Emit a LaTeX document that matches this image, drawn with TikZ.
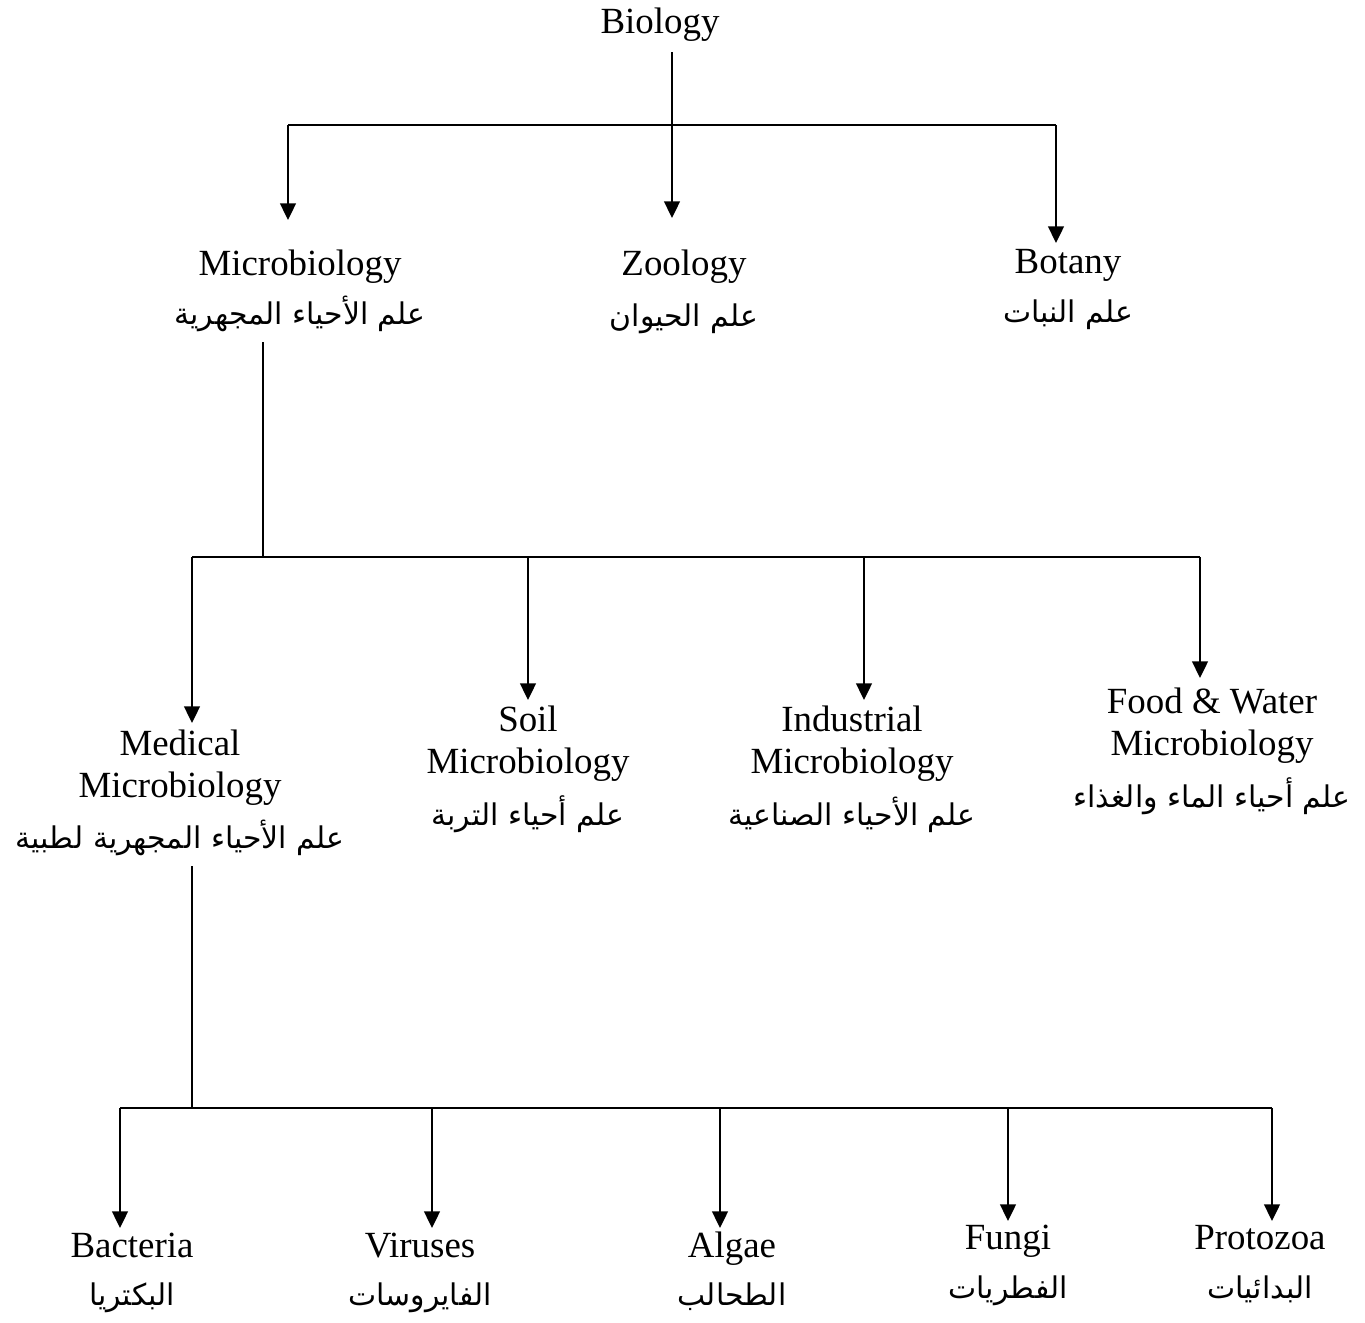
\documentclass[tikz,border=0pt]{standalone}
\usepackage{fontspec}
\setmainfont{Liberation Serif}
\newfontfamily\arabicfont[Script=Arabic]{DejaVu Sans}
\TeXXeTstate=1
\usetikzlibrary{arrows.meta}

\tikzstyle{title} = [font=\fontsize{21}{23.8}\selectfont, align=center, inner sep=0pt, anchor=north]
\tikzstyle{arabic} = [font=\arabicfont\fontsize{17}{20}\selectfont, inner sep=0pt, anchor=base]
\tikzstyle{bar} = [draw, line width=1.1pt, -]
\tikzstyle{arrowdecorate} = [-{Triangle[width=9pt,length=9.5pt]}, line width=1.1pt]

\begin{document}
\begin{tikzpicture}[x=0.02cm, y=-0.02cm]
    \useasboundingbox (0,0) rectangle (1365,1322);
    %% english labels, y is the baseline of the first line
    \foreach \name/\x/\y/\txt in {
      bio/660/33/Biology,
      micro/300/275/Microbiology, zoo/684/275/Zoology, bot/1068/274/Botany,
      med/180/755/{Medical\\Microbiology}, soil/528/731/{Soil\\Microbiology},
      ind/852/731/{Industrial\\Microbiology}, food/1212/713/{Food \& Water\\Microbiology},
      bact/132/1258/Bacteria, vir/420/1258/Viruses, alg/732/1257/Algae,
      fun/1008/1250/Fungi, pro/1260/1250/Protozoa}
    {
      \node[title] (\name) at (\x,\y-25) {\txt};
    }
    %% arabic labels
    \foreach \name/\x/\y/\txt in {
      micro/300/324/علم الأحياء المجهرية, zoo/684/326/علم الحيوان, bot/1068/322/علم النبات,
      med/180/848/علم الأحياء المجهرية لطبية, soil/528/825/علم أحياء التربة,
      ind/852/825/علم الأحياء الصناعية, food/1212/807/علم أحياء الماء والغذاء,
      bact/132/1305/البكتريا, vir/420/1305/الفايروسات, alg/732/1305/الطحالب,
      fun/1008/1298/الفطريات, pro/1260/1298/البدائيات}
    {
      \node[arabic] (\name-ar) at (\x,\y) {\beginR\txt\endR};
    }
    %% level 1
    \coordinate (bio-j) at (672,125);
    \draw[bar, shorten <=10*0.02cm] (bio.south -| bio-j) -- (bio-j);
    \draw[bar] (288,125) coordinate (micro-j) -- (1056,125) coordinate (bot-j);
    \coordinate (zoo-j) at (bio-j);
    \foreach \name/\gap in {micro/30, zoo/32, bot/6}
      \draw[arrowdecorate, shorten >=\gap*0.02cm] (\name-j) -- (\name-j |- \name.north);
    %% level 2
    \coordinate (micro-b) at (263,557);
    \draw[bar, shorten <=18*0.02cm] (micro-ar.base -| micro-b) -- (micro-b);
    \draw[bar] (192,557) coordinate (med-j) -- (1200,557) coordinate (food-j);
    \coordinate (soil-j) at (528,557);
    \coordinate (ind-j) at (864,557);
    \foreach \name/\gap in {med/7, soil/6, ind/6, food/10}
      \draw[arrowdecorate, shorten >=\gap*0.02cm] (\name-j) -- (\name-j |- \name.north);
    %% level 3
    \coordinate (med-b) at (192,1108);
    \draw[bar, shorten <=18*0.02cm] (med-ar.base -| med-b) -- (med-b);
    \draw[bar] (120,1108) coordinate (bact-j) -- (1272,1108) coordinate (pro-j);
    \coordinate (vir-j) at (432,1108);
    \coordinate (alg-j) at (720,1108);
    \coordinate (fun-j) at (1008,1108);
    \foreach \name/\gap in {bact/5, vir/5, alg/4, fun/4, pro/4}
      \draw[arrowdecorate, shorten >=\gap*0.02cm] (\name-j) -- (\name-j |- \name.north);
\end{tikzpicture}
\end{document}
